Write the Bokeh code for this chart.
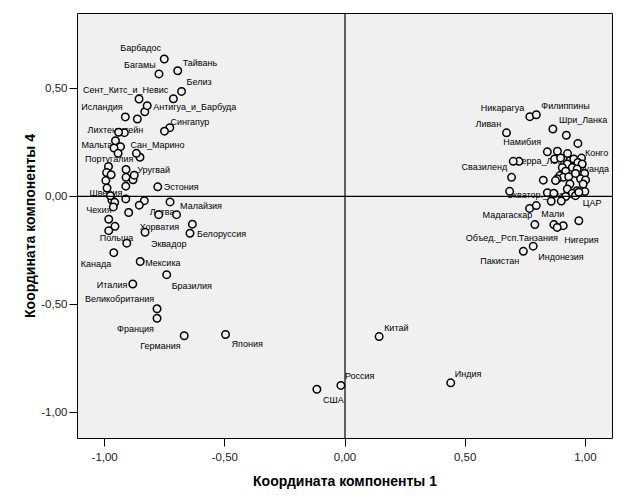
from bokeh.plotting import figure
from bokeh.models import ColumnDataSource, Span, FixedTicker, Range1d
from bokeh.core.properties import value
from bokeh.embed import file_html
from bokeh.resources import INLINE

# ---- data: labelled countries ----
names = [
    "Барбадос", "Тайвань", "Багамы", "Белиз", "Сент_Китс_и_Невис", "Антигуа_и_Барбуда",
    "Исландия", "Сингапур", "Лихтенштейн", "Мальта", "Португалия", "Сан_Марино",
    "Уругвай", "Эстония", "Швеция", "Чехия", "Малайзия", "Хорватия",
    "Литва", "Эквадор", "Белоруссия", "Польша", "Канада", "Мексика",
    "Бразилия", "Италия", "Великобритания", "Франция", "Германия", "Япония",
    "Китай", "Россия", "США", "Индия",
    "Никарагуа", "Филиппины", "Ливан", "Шри_Ланка", "Конго", "Намибия",
    "Сьерра_Леоне", "Руанда", "ЦАР", "Свазиленд", "Экватор._Гвинея", "Мадагаскар",
    "Мали", "Объед._Рсп.Танзания", "Нигерия", "Индонезия", "Пакистан",
]
comp1 = [
    -0.752, -0.696, -0.774, -0.680, -0.857, -0.823,
    -0.914, -0.751, -0.942, -0.955, -0.944, -0.868,
    -0.877, -0.779, -0.976, -0.964, -0.728, -0.900,
    -0.775, -0.832, -0.645, -0.908, -0.962, -0.852,
    -0.742, -0.883, -0.782, -0.782, -0.669, -0.497,
    0.142, -0.017, -0.117, 0.440,
    0.769, 0.796, 0.672, 0.865, 0.969, 0.842,
    0.700, 0.959, 0.973, 0.693, 0.685, 0.768,
    0.796, 0.790, 0.883, 0.783, 0.742,
]
comp4 = [
    0.636, 0.582, 0.567, 0.486, 0.451, 0.420,
    0.368, 0.302, 0.297, 0.258, 0.199, 0.199,
    0.098, 0.044, 0.003, -0.049, -0.026, -0.075,
    -0.085, -0.167, -0.171, -0.217, -0.261, -0.302,
    -0.363, -0.406, -0.521, -0.565, -0.646, -0.640,
    -0.650, -0.876, -0.894, -0.864,
    0.369, 0.378, 0.294, 0.312, 0.245, 0.206,
    0.162, 0.106, 0.019, 0.088, 0.023, -0.056,
    -0.043, -0.131, -0.144, -0.231, -0.255,
]
# ---- data: countries whose labels are hidden ----
other_comp1 = [
    -0.714, -0.833, -0.864, -0.729, -0.918, -0.934, -0.961, -0.853, -0.984, -0.911,
    -0.992, -0.973, -0.911, -0.882, -0.995, -0.912, -0.990, -0.970, -0.958, -0.912,
    -0.835, -0.856, -0.701, -0.983, -0.957, -0.983, -0.635,
    0.921, 0.884, 0.926, 0.984, 0.724, 0.872, 0.897, 0.936, 0.952, 0.969,
    0.987, 0.925, 0.904, 0.946, 0.966, 0.918, 0.997, 0.894, 0.908, 0.883,
    0.876, 0.931, 0.825, 0.980, 1.001, 0.936, 0.991, 0.925, 0.966, 0.842,
    0.998, 0.946, 0.869, 0.918, 0.959, 0.858, 0.900, 0.869, 0.908, 0.973,
]
other_comp4 = [
    0.452, 0.392, 0.358, 0.318, 0.295, 0.230, 0.224, 0.181, 0.138, 0.124,
    0.110, 0.100, 0.088, 0.077, 0.073, 0.047, 0.038, -0.017, -0.028, -0.012,
    -0.020, -0.041, -0.085, -0.106, -0.139, -0.159, -0.129,
    0.283, 0.209, 0.198, 0.177, 0.162, 0.173, 0.178, 0.165, 0.173, 0.157,
    0.150, 0.150, 0.134, 0.134, 0.127, 0.116, 0.106, 0.096, 0.088, 0.081,
    0.073, 0.091, 0.075, 0.081, 0.076, 0.057, 0.057, 0.034, 0.026, 0.017,
    0.022, 0.014, 0.014, -0.001, 0.003, -0.023, -0.022, -0.131, -0.136, -0.113,
]
x_ticks = [-1.0, -0.5, 0.0, 0.5, 1.0]
x_tick_labels = ["-1,00", "-0,50", "0,00", "0,50", "1,00"]
y_ticks = [-1.0, -0.5, 0.0, 0.5]
y_tick_labels = ["-1,00", "-0,50", "0,00", "0,50"]
x_title = "Координата компоненты 1"
y_title = "Координата компоненты 4"

# ---- label placement (screen pixel offsets of label left edge / middle) ----
label_offsets = {
    "Барбадос": (-44, -11), "Тайвань": (5, -8), "Багамы": (-35, -9), "Белиз": (5, -9),
    "Сент_Китс_и_Невис": (-56, -9), "Антигуа_и_Барбуда": (6, 1), "Исландия": (-44, -10),
    "Сингапур": (6, -9), "Лихтенштейн": (-31, -2), "Мальта": (-34, 4), "Сан_Марино": (-6, -8),
    "Португалия": (-33, 6), "Уругвай": (3, -5), "Эстония": (6, 0), "Швеция": (-21, -3),
    "Чехия": (-27, 3), "Малайзия": (10, 4), "Литва": (-9, -3), "Хорватия": (11, 14),
    "Эквадор": (6, 12), "Белоруссия": (7, 1), "Польша": (-27, -5), "Канада": (-33, 11),
    "Мексика": (5, 1), "Бразилия": (5, 11), "Италия": (-36, 1), "Великобритания": (-72, -10),
    "Франция": (-40, 11), "Германия": (-44, 10), "Япония": (6, 10), "Китай": (5, -9),
    "Россия": (4, -9), "США": (6, 11), "Индия": (4, -9), "Никарагуа": (-49, -9),
    "Филиппины": (5, -9), "Шри_Ланка": (6, -9), "Ливан": (-31, -9), "Намибия": (-44, -10),
    "Конго": (7, 10), "Сьерра_Леоне": (-3, 0), "Свазиленд": (-50, -10), "Руанда": (3, -4),
    "Экватор._Гвинея": (-3, 4), "ЦАР": (4, 11), "Мадагаскар": (-47, 7), "Мали": (5, 8),
    "Объед._Рсп.Танзания": (-69, 13), "Нигерия": (7, 13), "Индонезия": (5, 11), "Пакистан": (-43, 10),
}

FONT = "Liberation Sans"
BG = "#F0F0F0"

p = figure(width=617, height=494, output_backend="svg", toolbar_location=None,
           x_range=Range1d(-1.113, 1.113), y_range=Range1d(-1.122, 0.847),
           min_border_left=77, min_border_right=5, min_border_top=13, min_border_bottom=56)
p.background_fill_color = BG
p.border_fill_color = "white"
p.outline_line_color = "black"
p.outline_line_width = 1
p.grid.visible = False

for ax, ticks, labels in ((p.xaxis[0], x_ticks, x_tick_labels), (p.yaxis[0], y_ticks, y_tick_labels)):
    ax.ticker = FixedTicker(ticks=ticks)
    ax.major_label_overrides = {t: l for t, l in zip(ticks, labels)}
    ax.axis_line_color = None
    ax.major_tick_in = 0
    ax.major_tick_out = 8
    ax.major_tick_line_color = "black"
    ax.minor_tick_line_color = None
    ax.major_label_text_font = FONT
    ax.major_label_text_font_size = "11.5px"
    ax.major_label_text_color = "#222222"
    ax.axis_label_text_font = FONT
    ax.axis_label_text_font_size = "14px"
    ax.axis_label_text_font_style = "bold"
    ax.axis_label_text_color = "black"

p.xaxis.axis_label = x_title
p.yaxis.axis_label = y_title
p.xaxis.major_label_standoff = 6
p.xaxis.axis_label_standoff = 9
p.yaxis.major_label_standoff = 2
p.yaxis.axis_label_standoff = 0

p.add_layout(Span(location=0, dimension="height", line_color="black", line_width=1.2))
p.add_layout(Span(location=0, dimension="width", line_color="black", line_width=1.2))

lab_src = ColumnDataSource(dict(
    x=comp1, y=comp4, name=names,
    dx=[label_offsets[n][0] for n in names], dy=[label_offsets[n][1] for n in names],
))
p.text(x="x", y="y", text="name", x_offset="dx", y_offset="dy", source=lab_src,
       text_font=value(FONT), text_font_size="9px", text_color="black",
       text_align="left", text_baseline="middle")

pts = ColumnDataSource(dict(x=other_comp1 + comp1, y=other_comp4 + comp4))
p.scatter(x="x", y="y", source=pts, size=7.5, marker="circle",
          fill_color=BG, line_color="black", line_width=1.5)

open("out.html", "w").write(file_html(p, INLINE))
